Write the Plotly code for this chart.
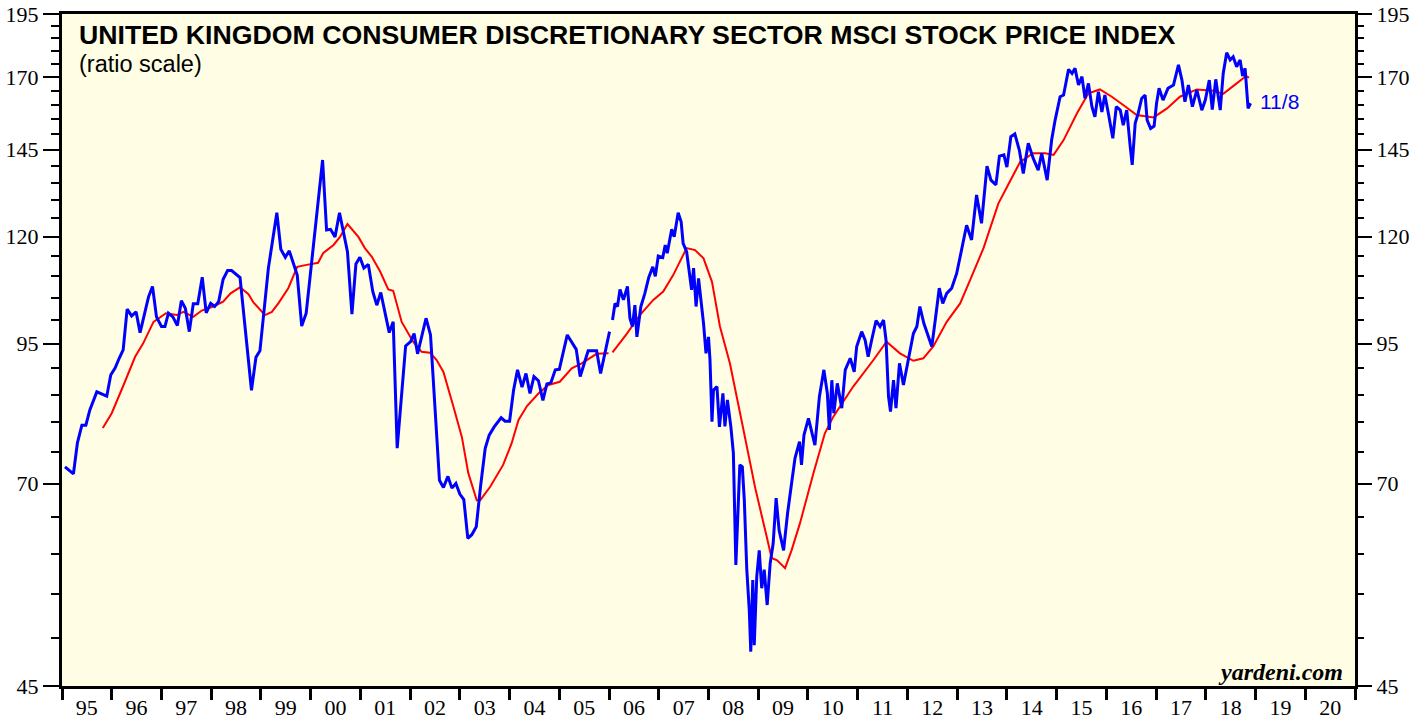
import math
import plotly.graph_objects as go

# ---- data (decimal years, index level) ----
blue_years = [
    1995.06, 1995.23, 1995.31, 1995.40, 1995.48, 1995.56, 1995.70, 1995.90, 1995.98, 1996.07,
    1996.15, 1996.23, 1996.31, 1996.40, 1996.49, 1996.57, 1996.74, 1996.82, 1996.90, 1997.00,
    1997.07, 1997.14, 1997.23, 1997.32, 1997.40, 1997.48, 1997.56, 1997.64, 1997.73, 1997.82,
    1997.90, 1997.99, 1998.07, 1998.15, 1998.24, 1998.33, 1998.41, 1998.58, 1998.81, 1998.90,
    1998.98, 1999.15, 1999.32, 1999.40, 1999.49, 1999.57, 1999.73, 1999.82, 1999.91, 2000.07,
    2000.15, 2000.24, 2000.32, 2000.40, 2000.49, 2000.58, 2000.74, 2000.83, 2000.91, 2000.99,
    2001.07, 2001.16, 2001.25, 2001.33, 2001.41, 2001.58, 2001.66, 2001.74, 2001.91, 2002.01,
    2002.08, 2002.15, 2002.32, 2002.41, 2002.59, 2002.67, 2002.76, 2002.84, 2002.92, 2003.00,
    2003.08, 2003.16, 2003.24, 2003.33, 2003.42, 2003.51, 2003.59, 2003.69, 2003.83, 2003.91,
    2004.00, 2004.08, 2004.16, 2004.25, 2004.33, 2004.41, 2004.49, 2004.58, 2004.67, 2004.75,
    2004.83, 2004.92, 2005.00, 2005.16, 2005.34, 2005.42, 2005.58, 2005.75, 2005.83, 2006.01,
    2006.04,
    2006.07, 2006.12, 2006.17, 2006.22, 2006.29, 2006.37, 2006.42, 2006.47, 2006.52, 2006.56,
    2006.64, 2006.72, 2006.80, 2006.88, 2006.93, 2006.99, 2007.08, 2007.13, 2007.17, 2007.26,
    2007.31, 2007.39, 2007.45, 2007.49, 2007.56, 2007.61, 2007.66, 2007.70, 2007.75, 2007.80,
    2007.84, 2007.90, 2007.95, 2008.00, 2008.03, 2008.07, 2008.10, 2008.17, 2008.22, 2008.29,
    2008.33, 2008.38, 2008.45, 2008.50, 2008.55, 2008.59, 2008.63, 2008.68, 2008.72, 2008.77,
    2008.82, 2008.85, 2008.89, 2008.92, 2008.97, 2009.02, 2009.07, 2009.12, 2009.18, 2009.24,
    2009.30, 2009.36, 2009.42, 2009.51, 2009.59, 2009.67, 2009.74, 2009.83, 2009.87, 2009.92,
    2010.01, 2010.14, 2010.23, 2010.32, 2010.39, 2010.43, 2010.48, 2010.52, 2010.59, 2010.68,
    2010.75, 2010.85, 2010.93, 2010.98, 2011.08, 2011.15, 2011.21, 2011.28, 2011.37, 2011.45,
    2011.52, 2011.57, 2011.62, 2011.66, 2011.72, 2011.77, 2011.84, 2011.92, 2012.02, 2012.12,
    2012.19, 2012.25, 2012.33, 2012.42, 2012.49, 2012.56, 2012.64, 2012.71, 2012.79, 2012.89,
    2012.99, 2013.06, 2013.19, 2013.29, 2013.39, 2013.49, 2013.60, 2013.68, 2013.78, 2013.85,
    2013.94, 2014.00, 2014.08, 2014.16, 2014.25, 2014.33, 2014.43, 2014.53, 2014.63, 2014.70,
    2014.81, 2014.90, 2014.97, 2015.07, 2015.14, 2015.24, 2015.31, 2015.37, 2015.44, 2015.51,
    2015.57, 2015.64, 2015.71, 2015.77, 2015.84, 2015.91, 2015.97, 2016.04, 2016.13, 2016.20,
    2016.28, 2016.34, 2016.41, 2016.48, 2016.52, 2016.58, 2016.64, 2016.71, 2016.78, 2016.82,
    2016.89, 2016.96, 2017.01, 2017.06, 2017.14, 2017.24, 2017.35, 2017.45, 2017.52, 2017.58,
    2017.65, 2017.73, 2017.82, 2017.92, 2017.99, 2018.07, 2018.13, 2018.20, 2018.29, 2018.35,
    2018.42, 2018.49, 2018.55, 2018.62, 2018.69, 2018.74, 2018.79, 2018.85, 2018.90,
]
blue_values = [
    72.6, 71.5, 76.5, 79.5, 79.5, 82.2, 85.5, 84.7, 88.7, 90.1,
    92.0, 93.7, 102.4, 100.9, 101.8, 97.3, 105.2, 107.6, 100.7, 98.6,
    98.6, 101.5, 100.7, 98.8, 104.3, 102.6, 97.5, 103.6, 103.6, 109.8,
    101.6, 103.7, 103.0, 104.1, 109.3, 111.4, 111.4, 109.7, 85.8, 92.2,
    93.5, 112.0, 126.4, 116.7, 114.7, 116.3, 110.3, 98.7, 101.5, 119.9,
    129.5, 141.8, 121.7, 121.9, 119.9, 126.4, 116.1, 101.3, 113.0, 114.7,
    112.0, 112.9, 106.4, 103.3, 106.2, 97.3, 99.6, 75.6, 94.5, 95.4,
    97.1, 92.9, 100.4, 96.8, 70.5, 69.4, 71.1, 69.3, 70.0, 68.4,
    67.6, 62.1, 62.6, 63.7, 69.8, 75.6, 77.8, 79.2, 80.8, 80.2,
    80.2, 85.8, 89.7, 86.4, 89.0, 85.2, 88.4, 87.6, 83.9, 87.0,
    87.2, 89.7, 89.8, 96.8, 93.8, 88.4, 93.5, 93.5, 89.0, 97.5,
    None,
    100.0, 103.7, 103.0, 106.9, 104.5, 107.6, 100.4, 98.6, 103.3, 96.4,
    103.0, 106.0, 109.8, 112.3, 110.0, 115.0, 114.6, 117.8, 115.7, 121.9,
    119.9, 126.4, 123.9, 118.2, 116.1, 111.5, 106.8, 112.0, 103.0, 109.5,
    105.6, 99.3, 93.0, 96.4, 91.7, 80.1, 85.8, 86.5, 79.2, 85.2,
    79.3, 84.0, 79.2, 74.8, 58.6, 65.6, 72.9, 72.6, 67.5, 58.0,
    53.1, 48.5, 56.7, 49.2, 57.1, 60.5, 55.7, 58.0, 53.7, 58.8,
    61.4, 67.8, 63.2, 60.5, 65.6, 70.0, 74.0, 76.7, 72.9, 77.8,
    80.7, 76.1, 84.6, 89.7, 85.2, 78.7, 87.7, 81.6, 87.1, 82.5,
    89.7, 92.0, 89.3, 94.4, 97.5, 95.7, 92.3, 95.7, 99.9, 98.6,
    100.0, 95.7, 84.6, 81.9, 87.7, 82.5, 91.0, 86.8, 91.7, 97.1,
    98.6, 103.0, 99.3, 96.4, 94.4, 100.0, 107.2, 103.7, 106.0, 107.2,
    110.7, 114.8, 123.0, 119.1, 131.4, 123.5, 139.9, 135.7, 134.3, 143.0,
    143.4, 139.6, 149.2, 150.1, 144.9, 137.7, 147.1, 142.3, 138.7, 143.9,
    135.7, 148.1, 154.7, 162.8, 163.4, 172.8, 171.3, 173.2, 167.0, 170.1,
    162.2, 167.6, 159.3, 155.8, 164.6, 157.5, 163.4, 157.0, 148.7, 159.3,
    158.1, 153.0, 158.1, 146.0, 140.3, 153.6, 157.0, 162.2, 163.4, 154.7,
    151.9, 152.7, 160.5, 165.8, 161.6, 165.8, 167.0, 174.5, 168.8, 161.0,
    167.0, 159.3, 165.2, 158.1, 161.6, 168.8, 158.3, 169.1, 158.1, 171.3,
    179.2, 176.4, 177.6, 173.8, 176.4, 170.3, 173.2, 158.7, 160.5,
]

red_years = [
    1995.82, 1996.00, 1996.23, 1996.47, 1996.63, 1996.84, 1997.09, 1997.31, 1997.44, 1997.64,
    1997.81, 1998.04, 1998.24, 1998.39, 1998.58, 1998.75, 1998.85, 1999.08, 1999.22, 1999.35,
    1999.55, 1999.73, 1999.92, 2000.15, 2000.25, 2000.46, 2000.59, 2000.74, 2000.96, 2001.09,
    2001.23, 2001.40, 2001.56, 2001.66, 2001.83, 2002.06, 2002.23, 2002.40, 2002.53, 2002.67,
    2002.87, 2003.04, 2003.17, 2003.34, 2003.41, 2003.61, 2003.87, 2004.04, 2004.18, 2004.35,
    2004.58, 2004.78, 2005.01, 2005.25, 2005.45, 2005.75, 2005.99,
    2006.03,
    2006.07, 2006.36, 2006.62, 2006.89, 2007.09, 2007.29, 2007.56, 2007.73, 2007.90, 2008.07,
    2008.23, 2008.43, 2008.67, 2008.94, 2009.14, 2009.27, 2009.38, 2009.54, 2009.67, 2009.84,
    2010.11, 2010.34, 2010.51, 2010.91, 2011.32, 2011.58, 2011.85, 2012.12, 2012.32, 2012.52,
    2012.79, 2013.06, 2013.26, 2013.53, 2013.83, 2014.27, 2014.53, 2014.77, 2014.94, 2015.14,
    2015.41, 2015.64, 2015.87, 2016.11, 2016.34, 2016.61, 2016.95, 2017.22, 2017.48, 2017.82,
    2018.15, 2018.35, 2018.62, 2018.81, 2018.87,
]
red_values = [
    79.0, 81.6, 86.6, 92.3, 95.0, 99.6, 101.5, 101.1, 101.8, 100.7,
    102.1, 103.0, 104.1, 106.0, 107.4, 105.8, 103.9, 101.1, 101.8, 103.7,
    107.2, 112.3, 112.8, 113.3, 115.7, 117.8, 119.9, 123.3, 119.9, 117.0,
    114.8, 111.1, 106.9, 106.6, 99.6, 95.4, 93.3, 93.1, 91.7, 89.3,
    82.8, 77.5, 71.6, 67.5, 67.5, 69.5, 72.9, 76.4, 80.4, 82.9,
    85.2, 86.8, 87.4, 90.0, 91.0, 92.9, 93.0,
    None,
    93.2, 97.1, 101.1, 104.5, 106.4, 110.3, 117.0, 116.5, 114.4, 108.7,
    98.6, 91.0, 80.1, 69.3, 63.2, 59.5, 59.2, 58.2, 60.5, 64.2,
    71.6, 78.1, 81.0, 86.5, 91.7, 95.4, 93.0, 91.5, 92.0, 94.4,
    99.6, 103.7, 109.1, 117.0, 129.0, 141.3, 143.9, 143.9, 143.4, 148.1,
    157.0, 164.0, 165.4, 162.8, 159.9, 156.4, 155.6, 158.7, 162.8, 165.4,
    164.9, 163.8, 167.6, 170.3, 169.7,
]

year_labels = ["95", "96", "97", "98", "99", "00", "01", "02", "03", "04", "05", "06", "07",
               "08", "09", "10", "11", "12", "13", "14", "15", "16", "17", "18", "19", "20"]
y_ticks = [45, 70, 95, 120, 145, 170, 195]
y_minor = [v for v in range(50, 195, 5) if v not in y_ticks]

title = "UNITED KINGDOM CONSUMER DISCRETIONARY SECTOR MSCI STOCK PRICE INDEX"
subtitle = "(ratio scale)"
last_label = "11/8"
source = "yardeni.com"

# ---- figure ----
first_year = 1995
x_mid = [first_year + i + 0.5 for i in range(len(year_labels))]
yr_range = [math.log10(45), math.log10(195)]

fig = go.Figure()
fig.add_trace(go.Scatter(x=red_years, y=red_values, mode="lines",
                         line=dict(color="#FF0000", width=2), connectgaps=False,
                         hoverinfo="skip", showlegend=False))
fig.add_trace(go.Scatter(x=blue_years, y=blue_values, mode="lines",
                         line=dict(color="#0000FF", width=3), connectgaps=False,
                         hoverinfo="skip", showlegend=False))
fig.add_trace(go.Scatter(x=[blue_years[0]], y=[blue_values[0]], yaxis="y2", mode="markers",
                         marker=dict(opacity=0), hoverinfo="skip", showlegend=False))

serif = "Liberation Serif, Times New Roman, serif"
sans = "Liberation Sans, Arial, Helvetica, sans-serif"

yaxis_common = dict(
    type="log", range=yr_range, tickmode="array", tickvals=y_ticks,
    ticktext=[str(v) for v in y_ticks], ticks="outside", ticklen=16, tickwidth=2,
    tickcolor="black", showgrid=False, zeroline=False, automargin=False,
    tickfont=dict(family=serif, size=22, color="black"),
    minor=dict(tickmode="array", tickvals=y_minor, ticks="outside", ticklen=8,
               tickwidth=2, tickcolor="black", showgrid=False),
)

fig.update_layout(
    width=1425, height=719,
    margin=dict(l=62, r=70, t=14, b=33, autoexpand=False),
    paper_bgcolor="white", plot_bgcolor="#FFFEE4",
    xaxis=dict(
        range=[first_year, first_year + len(year_labels)], automargin=False,
        tickmode="array", tickvals=x_mid, ticktext=year_labels, ticks="",
        tickfont=dict(family=serif, size=22, color="black"),
        showline=True, linewidth=3, linecolor="black", mirror=True,
        showgrid=False, zeroline=False,
        minor=dict(tickmode="linear", tick0=first_year, dtick=1, ticks="outside",
                   ticklen=11, tickwidth=3, tickcolor="black", showgrid=False),
    ),
    yaxis=dict(**yaxis_common, side="left", showline=True, linewidth=3,
               linecolor="black", mirror=True),
    yaxis2=dict(**yaxis_common, side="right", overlaying="y", showline=False),
    annotations=[
        dict(text="<b>" + title + "</b>", xref="paper", yref="paper", x=0.0116, y=0.969,
             xanchor="left", yanchor="middle", showarrow=False,
             font=dict(family=sans, size=26.7, color="black")),
        dict(text=subtitle, xref="paper", yref="paper", x=0.0116, y=0.9256,
             xanchor="left", yanchor="middle", showarrow=False,
             font=dict(family=sans, size=23.5, color="black")),
        dict(text=last_label, xref="paper", yref="paper", x=0.925, y=0.8705,
             xanchor="left", yanchor="middle", showarrow=False,
             font=dict(family=sans, size=21, color="#0000FF")),
        dict(text="<b><i>" + source + "</i></b>", xref="paper", yref="paper", x=0.9923,
             y=0.0208, xanchor="right", yanchor="middle", showarrow=False,
             font=dict(family=serif, size=24, color="black")),
    ],
)

# remove the browser's default 8px body margin so the chart sits at the page origin
fig.write_html("out.html", config={"displayModeBar": False, "staticPlot": True},
               post_script="document.body.style.margin='0px'; document.body.style.overflow='hidden';")
